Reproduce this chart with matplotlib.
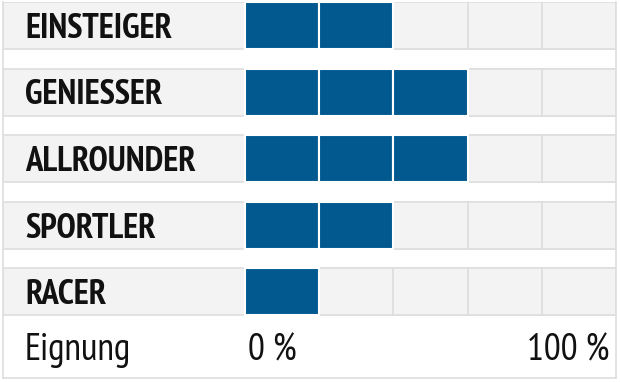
import matplotlib
matplotlib.use("Agg")
import matplotlib.pyplot as plt

# Daten
kategorien = ["EINSTEIGER", "GENIESSER", "ALLROUNDER", "SPORTLER", "RACER"]
werte = [2, 3, 3, 2, 1]          # gefuellte Segmente von 5
n_segmente = 5
fuss_label = "Eignung"
skala_labels = ["0 %", "100 %"]

BLAU = "#02598f"
HELL = "#f3f3f3"
RAND = "#dedede"

W, H = 620, 382
fig = plt.figure(figsize=(W / 100, H / 100), dpi=100)

# Achse in Pixel-Layout: Zellbreite 74.2 px, Zeilenabstand 66.5 px
zelle_px = 74.2
zeile_px = 66.5
label_breite = (245 - 3) / zelle_px
hoehe = 47 / zeile_px
y_top = -hoehe / 2
y_bottom = 4 + hoehe / 2 + 63 / zeile_px

ax = fig.add_axes([3 / W, 4 / H, 613 / W, 376 / H])
ax.set_xlim(-label_breite, n_segmente)
ax.set_ylim(y_bottom, y_top)

schrift = ["PT Sans Narrow", "DejaVu Sans"]

for i, (name, v) in enumerate(zip(kategorien, werte)):
    # Hintergrund der Zeile
    ax.barh(i, n_segmente + label_breite, left=-label_breite, height=hoehe,
            color=HELL, edgecolor=RAND, linewidth=1.2)
    # Leere Segmente
    for k in range(n_segmente):
        ax.barh(i, 1, left=k, height=hoehe, color=HELL,
                edgecolor=RAND, linewidth=1.2)
    # Gefuellte Segmente
    for k in range(v):
        ax.barh(i, 1, left=k, height=hoehe, color=BLAU,
                edgecolor="white", linewidth=1.5)
    ax.text(-label_breite + 22 / zelle_px, i + 12.5 / zeile_px, name,
            fontsize=25, fontweight="bold", family=schrift,
            color="#111111", va="baseline", ha="left")

y_fuss = 4 + hoehe / 2 + 45 / zeile_px
ax.text(-label_breite + 22 / zelle_px, y_fuss, fuss_label, fontsize=27,
        family=schrift, color="#111111", va="baseline", ha="left")
ax.text(0.04, y_fuss, skala_labels[0], fontsize=27, family=schrift,
        color="#111111", va="baseline", ha="left")
ax.text(n_segmente - 7 / zelle_px, y_fuss, skala_labels[1], fontsize=27,
        family=schrift, color="#111111", va="baseline", ha="right")

ax.set_xticks([])
ax.set_yticks([])
ax.spines["top"].set_visible(False)
for s in ("left", "right", "bottom"):
    ax.spines[s].set_color(RAND)
    ax.spines[s].set_linewidth(1.2)

fig.savefig("out.png", dpi=100)
